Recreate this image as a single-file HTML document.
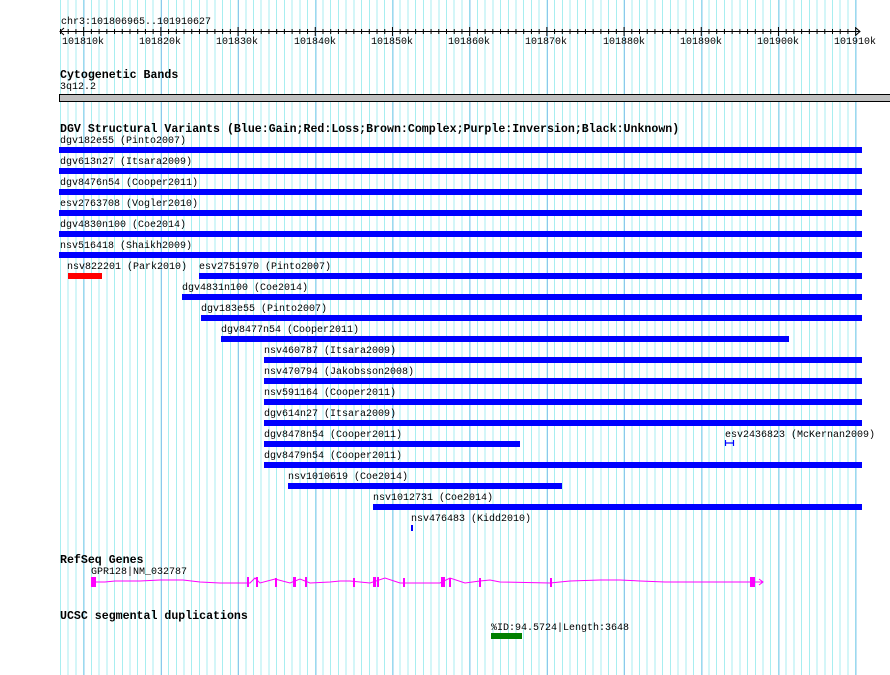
<!DOCTYPE html>
<html><head><meta charset="utf-8"><style>
body{margin:0;background:#fff}
#c{position:relative;width:890px;height:675px;overflow:hidden;background:#fff}
.grid{position:absolute;left:60px;top:0;width:802px;height:675px;
background:repeating-linear-gradient(to right,transparent 0 23.7px,#8cc8ec 23.7px 24.7px,transparent 24.7px 77.2px),
repeating-linear-gradient(to right,#a8eef0 0 1px,transparent 1px 7.72px);}
.t{position:absolute;font-family:"Liberation Mono",monospace;font-size:10px;line-height:10px;color:#000;white-space:pre;margin-top:2px}
.h{position:absolute;font-family:"Liberation Mono",monospace;font-size:11.6px;font-weight:bold;line-height:11px;color:#000;white-space:pre;margin-top:2px}
.b{position:absolute;height:6px;background:#0000ff}
</style></head><body><div id="c">
<div class="grid"></div>
<svg style="position:absolute;left:0;top:0" width="890" height="675">
<g stroke="#000" stroke-width="1">
<line x1="60" y1="31.5" x2="860" y2="31.5"/>
<polyline points="64,28 60,31.5 64,35" fill="none"/>
<polyline points="856,28 860,31.5 856,35" fill="none"/>
</g>
<g stroke="#000" id="ticks"></g>
<rect x="59.5" y="94.5" width="832" height="7" fill="#c0c0c0" stroke="#000"/>
<g stroke="#ff00ff" fill="none" stroke-width="1">
<polyline points="95,582 105,582 115,581 140,581 160,580 183,580 200,582 220,583 250,583 255,578 260,583 275,579 290,583 300,579 310,583 330,582 340,581 350,581 370,583 385,578 400,583 420,583 440,583 450,578 465,583 480,581 490,580 500,582 550,583 570,581 600,580 620,580 640,581 665,582 690,582 750,582 763,582"/>
<polyline points="759,579 763,582 759,585"/>
</g>
<g fill="#ff00ff">
<rect x="91" y="577" width="5" height="10"/>
<rect x="247" y="577" width="2" height="10"/><rect x="256" y="577" width="2" height="10"/>
<rect x="275" y="578" width="2" height="9"/><rect x="293" y="577" width="3" height="10"/>
<rect x="305" y="577" width="2" height="10"/><rect x="353" y="578" width="2" height="9"/>
<rect x="373" y="577" width="3" height="10"/><rect x="377" y="577" width="2" height="10"/>
<rect x="403" y="578" width="2" height="9"/><rect x="441" y="577" width="4" height="10"/>
<rect x="449" y="578" width="2" height="9"/><rect x="479" y="578" width="2" height="9"/>
<rect x="550" y="578" width="2" height="9"/><rect x="750" y="577" width="5" height="10"/>
</g>
<rect x="491" y="633" width="31" height="6" fill="#008000"/>
<g stroke="#0000ff" stroke-width="1.2"><line x1="725.5" y1="440" x2="725.5" y2="446"/><line x1="733.5" y1="440" x2="733.5" y2="446"/><line x1="725" y1="443" x2="734" y2="443"/></g>
</svg>
<script>
var g=document.getElementById('ticks'),s='';
for(var n=0;n<104;n++){var x=60.5+7.72*n;var maj=(n-3)%10==0;s+='<line x1="'+x+'" y1="'+(maj?27:29)+'" x2="'+x+'" y2="'+(maj?36:34)+'"/>';}
g.innerHTML=s;
</script>
<div class="t" style="left:61px;top:16px">chr3:101806965..101910627</div>
<div class="t" style="left:62px;top:36px">101810k</div>
<div class="t" style="left:139px;top:36px">101820k</div>
<div class="t" style="left:216px;top:36px">101830k</div>
<div class="t" style="left:294px;top:36px">101840k</div>
<div class="t" style="left:371px;top:36px">101850k</div>
<div class="t" style="left:448px;top:36px">101860k</div>
<div class="t" style="left:525px;top:36px">101870k</div>
<div class="t" style="left:603px;top:36px">101880k</div>
<div class="t" style="left:680px;top:36px">101890k</div>
<div class="t" style="left:757px;top:36px">101900k</div>
<div class="t" style="left:834px;top:36px">101910k</div>
<div class="h" style="left:60px;top:68px">Cytogenetic Bands</div>
<div class="t" style="left:60px;top:81px">3q12.2</div>
<div class="h" style="left:60px;top:122px">DGV Structural Variants (Blue:Gain;Red:Loss;Brown:Complex;Purple:Inversion;Black:Unknown)</div>

<div class="t" style="left:60px;top:135px">dgv182e55 (Pinto2007)</div><div class="b" style="left:59px;top:147px;width:803px"></div>
<div class="t" style="left:60px;top:156px">dgv613n27 (Itsara2009)</div><div class="b" style="left:59px;top:168px;width:803px"></div>
<div class="t" style="left:60px;top:177px">dgv8476n54 (Cooper2011)</div><div class="b" style="left:59px;top:189px;width:803px"></div>
<div class="t" style="left:60px;top:198px">esv2763708 (Vogler2010)</div><div class="b" style="left:59px;top:210px;width:803px"></div>
<div class="t" style="left:60px;top:219px">dgv4830n100 (Coe2014)</div><div class="b" style="left:59px;top:231px;width:803px"></div>
<div class="t" style="left:60px;top:240px">nsv516418 (Shaikh2009)</div><div class="b" style="left:59px;top:252px;width:803px"></div>
<div class="t" style="left:67px;top:261px">nsv822201 (Park2010)</div><div class="b" style="left:68px;top:273px;width:34px;background:#ff0000"></div>
<div class="t" style="left:199px;top:261px">esv2751970 (Pinto2007)</div><div class="b" style="left:199px;top:273px;width:663px"></div>
<div class="t" style="left:182px;top:282px">dgv4831n100 (Coe2014)</div><div class="b" style="left:182px;top:294px;width:680px"></div>
<div class="t" style="left:201px;top:303px">dgv183e55 (Pinto2007)</div><div class="b" style="left:201px;top:315px;width:661px"></div>
<div class="t" style="left:221px;top:324px">dgv8477n54 (Cooper2011)</div><div class="b" style="left:221px;top:336px;width:568px"></div>
<div class="t" style="left:264px;top:345px">nsv460787 (Itsara2009)</div><div class="b" style="left:264px;top:357px;width:598px"></div>
<div class="t" style="left:264px;top:366px">nsv470794 (Jakobsson2008)</div><div class="b" style="left:264px;top:378px;width:598px"></div>
<div class="t" style="left:264px;top:387px">nsv591164 (Cooper2011)</div><div class="b" style="left:264px;top:399px;width:598px"></div>
<div class="t" style="left:264px;top:408px">dgv614n27 (Itsara2009)</div><div class="b" style="left:264px;top:420px;width:598px"></div>
<div class="t" style="left:264px;top:429px">dgv8478n54 (Cooper2011)</div><div class="b" style="left:264px;top:441px;width:256px"></div>
<div class="t" style="left:725px;top:429px">esv2436823 (McKernan2009)</div>
<div class="t" style="left:264px;top:450px">dgv8479n54 (Cooper2011)</div><div class="b" style="left:264px;top:462px;width:598px"></div>
<div class="t" style="left:288px;top:471px">nsv1010619 (Coe2014)</div><div class="b" style="left:288px;top:483px;width:274px"></div>
<div class="t" style="left:373px;top:492px">nsv1012731 (Coe2014)</div><div class="b" style="left:373px;top:504px;width:489px"></div>
<div class="t" style="left:411px;top:513px">nsv476483 (Kidd2010)</div><div class="b" style="left:411px;top:525px;width:2px"></div>

<div class="h" style="left:60px;top:553px">RefSeq Genes</div>
<div class="t" style="left:91px;top:566px">GPR128|NM_032787</div>
<div class="h" style="left:60px;top:609px">UCSC segmental duplications</div>
<div class="t" style="left:491px;top:622px">%ID:94.5724|Length:3648</div>
</div></body></html>
